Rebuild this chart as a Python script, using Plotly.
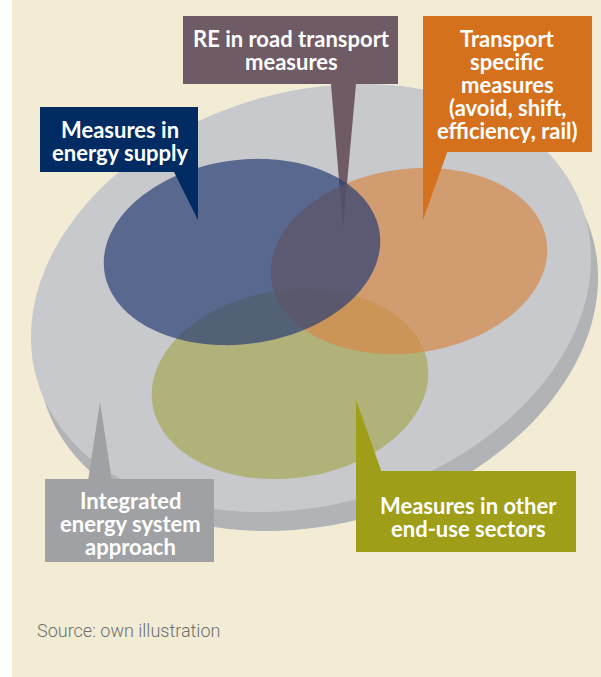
import numpy as np
import plotly.graph_objects as go

# ---- content (text of the diagram) ----
label_re = ["RE in road transport", "measures"]
label_transport = ["Transport", "specific", "measures", "(avoid, shift,", "efficiency, rail)"]
label_supply = ["Measures in", "energy supply"]
label_integrated = ["Integrated", "energy system", "approach"]
label_enduse = ["Measures in other", "end-use sectors"]
source_text = "Source: own illustration"

# ---- layout geometry (pixel space, y down) ----
W, H = 601, 677
BEIGE = "#f2ecd5"

def ellipse_path(cx, cy, a, b, deg, n=160):
    t = np.linspace(0, 2 * np.pi, n, endpoint=False)
    th = np.radians(deg)
    x = cx + a * np.cos(t) * np.cos(th) - b * np.sin(t) * np.sin(th)
    y = cy - (a * np.cos(t) * np.sin(th) + b * np.sin(t) * np.cos(th))
    pts = " L ".join(f"{xi:.2f},{yi:.2f}" for xi, yi in zip(x, y))
    return f"M {pts} Z"

def poly_path(pts):
    return "M " + " L ".join(f"{x},{y}" for x, y in pts) + " Z"

shapes = []
def add_path(path, color, opacity=1.0):
    shapes.append(dict(type="path", path=path, xref="x", yref="y",
                       fillcolor=color, opacity=opacity, line=dict(width=0), layer="above"))

def add_rect(x0, y0, x1, y1, color):
    shapes.append(dict(type="rect", x0=x0, y0=y0, x1=x1, y1=y1, xref="x", yref="y",
                       fillcolor=color, line=dict(width=0), layer="above"))

# background
add_rect(12, 0, W, H, BEIGE)
# big platform with shadow
add_path(ellipse_path(318, 317, 286, 206, 17), "#b2b3b7")
add_path(ellipse_path(311, 298, 286, 206, 17), "#c8c9cc")
# RE pointer sits under the circles
add_path(poly_path([(331, 84), (356, 84), (343, 228)]), "#6f5b65")
# the three measure circles
add_path(ellipse_path(290, 384, 139, 94, 8), "#a7a757", 0.7)
add_path(ellipse_path(409, 261, 139, 92, 8), "#d5894a", 0.7)
add_path(ellipse_path(242, 252, 139, 92, 8), "#293e75", 0.7)

# callout boxes
boxes = [
    # (x0, y0, x1, y1, color, pointer polygon)
    (183, 16, 398, 84, "#6f5b65", None),
    (423, 16, 592, 152, "#d5711d", [(423, 150), (448, 150), (423, 220)]),
    (40, 107, 198, 172, "#002b63", [(173, 170), (198, 170), (198, 220)]),
    (45, 479, 214, 562, "#a0a1a5", [(88, 481), (112, 481), (100, 402)]),
    (356, 471, 576, 552, "#9e9e18", [(356, 473), (382, 473), (356, 400)]),
]
for x0, y0, x1, y1, col, ptr in boxes:
    add_rect(x0, y0, x1, y1, col)
    if ptr:
        add_path(poly_path(ptr), col)

annotations = []
def add_lines(lines, cx, ys, size=22):
    for txt, y in zip(lines, ys):
        annotations.append(dict(x=cx, y=y, xref="x", yref="y", text=f"<b>{txt}</b>",
                                showarrow=False, xanchor="center", yanchor="middle",
                                font=dict(family="Lato, Noto Sans, sans-serif", size=size, color="white")))

add_lines(label_re, 291, [38, 61])
add_lines(label_transport, 507, [38, 61, 84, 107, 130])
add_lines(label_supply, 120, [129, 152])
add_lines(label_integrated, 130, [500, 523, 546])
add_lines(label_enduse, 468, [505, 528])

annotations.append(dict(x=35, y=630, xref="x", yref="y", text=source_text, showarrow=False,
                        xanchor="left", yanchor="middle",
                        font=dict(family="Roboto, sans-serif", weight=300,
                                  size=18, color="#6d6e71")))

fig = go.Figure()
fig.add_trace(go.Scatter(x=[0, W], y=[0, H], mode="markers", marker=dict(opacity=0),
                         hoverinfo="skip", showlegend=False))
fig.update_layout(
    width=W, height=H, margin=dict(l=0, r=0, t=0, b=0),
    paper_bgcolor="white", plot_bgcolor="white",
    xaxis=dict(range=[0, W], visible=False, fixedrange=True),
    yaxis=dict(range=[H, 0], visible=False, fixedrange=True),
    shapes=shapes, annotations=annotations, showlegend=False,
)
fig.write_html("out.html", config={"displayModeBar": False},
               post_script="document.body.style.margin='0';document.body.style.overflow='hidden';")
